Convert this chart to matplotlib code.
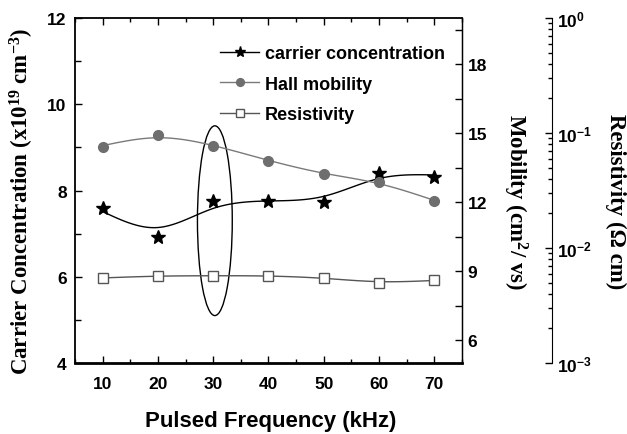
import matplotlib
matplotlib.use("Agg")
import matplotlib.pyplot as plt
import numpy as np
from matplotlib.patches import Ellipse
from matplotlib.ticker import FixedLocator, MultipleLocator, LogLocator, NullFormatter

plt.rcParams['font.family'] = 'Liberation Sans'
plt.rcParams['font.weight'] = 'bold'
plt.rcParams['mathtext.fontset'] = 'custom'
plt.rcParams['mathtext.rm'] = 'Liberation Serif:bold'
plt.rcParams['mathtext.bf'] = 'Liberation Sans:bold'
plt.rcParams['mathtext.default'] = 'rm'

freq = [10, 20, 30, 40, 50, 60, 70]
carrier = [7.60, 6.92, 7.76, 7.76, 7.74, 8.40, 8.32]          # x10^19 cm^-3
mobility = [14.39, 14.90, 14.43, 13.80, 13.20, 12.87, 12.04]  # cm^2/Vs
resistivity = [0.00548, 0.00571, 0.00571, 0.00571, 0.00552, 0.00499, 0.00527]  # ohm cm

serif = 'Liberation Serif'


def smooth(x, y, lam, h=0.5):
    # penalised least squares (Whittaker) on a fine grid -> smoothing spline
    x = np.asarray(x, float)
    y = np.asarray(y, float)
    xs = np.arange(x[0], x[-1] + h / 2, h)
    n = len(xs)
    idx = np.round((x - x[0]) / h).astype(int)
    w = np.zeros(n)
    w[idx] = 1.0
    yy = np.zeros(n)
    yy[idx] = y
    D = np.diff(np.eye(n), 2, axis=0)
    f = np.linalg.solve(np.diag(w) + lam * D.T @ D, w * yy)
    return xs, f


fig = plt.figure(figsize=(6.27, 4.35), dpi=100)
ax = fig.add_axes([0.1196, 0.1632, 0.6172, 0.7931])
ax2 = ax.twinx()
ax3 = ax.twinx()

xs, c_fit = smooth(freq, carrier, 500)
_, m_fit = smooth(freq, mobility, 500)
_, r_log = smooth(freq, np.log10(resistivity), 500)

ax.plot(xs, c_fit, color='black', lw=1.0)
ax.plot(freq, carrier, ls='none', marker='*', ms=10, color='black')
ax2.plot(xs, m_fit, color='#7a7a7a', lw=1.0)
ax2.plot(freq, mobility, ls='none', marker='o', ms=7, color='#6e6e6e')
ax3.plot(xs, 10 ** r_log, color='#555555', lw=1.0)
ax3.plot(freq, resistivity, ls='none', marker='s', ms=7, mfc='white',
         mec='#555555', mew=1.0)

ax.add_patch(Ellipse((30.3, 7.3), width=6.3, height=4.4, fill=False,
                     edgecolor='black', lw=1.0, zorder=5))

# legend proxies carry both line and marker
h1, = ax.plot([], [], color='black', lw=1.0, marker='*', ms=10)
h2, = ax.plot([], [], color='#7a7a7a', lw=1.0, marker='o', ms=7, mfc='#6e6e6e', mec='#6e6e6e')
h3, = ax.plot([], [], color='#555555', lw=1.0, marker='s', ms=7, mfc='white', mec='#555555')
ax.legend([h1, h2, h3], ['carrier concentration', 'Hall mobility', 'Resistivity'],
          loc='upper left', bbox_to_anchor=(0.375, 0.921), frameon=False,
          prop={'family': 'Liberation Sans', 'weight': 'bold', 'size': 13},
          handlelength=2.15, labelspacing=0.75, handletextpad=0.33,
          borderpad=0, borderaxespad=0, markerscale=0.8)

# main axis
ax.set_xlim(5, 75)
ax.set_ylim(4, 12)
ax.xaxis.set_major_locator(FixedLocator(freq))
ax.xaxis.set_minor_locator(MultipleLocator(5))
ax.yaxis.set_major_locator(MultipleLocator(2))
ax.yaxis.set_minor_locator(MultipleLocator(1))
ax.tick_params(axis='both', which='both', direction='in', top=True, right=False)
ax.tick_params(axis='x', which='major', length=5, width=1, pad=9, labelsize=12.5)
ax.tick_params(axis='x', which='minor', length=3, width=1)
ax.tick_params(axis='y', which='major', length=5, width=1, pad=6, labelsize=12.5)
ax.tick_params(axis='y', which='minor', length=4, width=1)
ax.spines['bottom'].set_linewidth(2.0)
ax.spines['left'].set_linewidth(1.3)
ax.spines['top'].set_linewidth(1.3)
ax.spines['right'].set_linewidth(1.0)

# mobility axis
ax2.set_ylim(5, 20)
ax2.yaxis.set_major_locator(FixedLocator([6, 9, 12, 15, 18]))
ax2.yaxis.set_minor_locator(FixedLocator([7.5, 10.5, 13.5, 16.5, 19.5]))
ax2.tick_params(axis='y', which='both', direction='in', labelsize=12.5, pad=4)
ax2.tick_params(axis='y', which='both', length=5, width=1)
for s in ['top', 'bottom', 'left']:
    ax2.spines[s].set_visible(False)

# resistivity axis, offset to the right
ax3.set_yscale('log')
ax3.set_ylim(1e-3, 1e0)
ax3.spines['right'].set_position(('axes', 1.2326))
for s in ['top', 'bottom', 'left']:
    ax3.spines[s].set_visible(False)
ax3.yaxis.set_major_locator(FixedLocator([1e-3, 1e-2, 1e-1, 1e0]))
ax3.set_yticklabels([r'$\mathbf{10^{-3}}$', r'$\mathbf{10^{-2}}$',
                     r'$\mathbf{10^{-1}}$', r'$\mathbf{10^{0}}$'])
ax3.yaxis.set_minor_locator(LogLocator(base=10, subs=np.arange(2, 10), numticks=20))
ax3.yaxis.set_minor_formatter(NullFormatter())
ax3.tick_params(axis='y', which='both', direction='in', labelsize=12.5, pad=3.5)
ax3.tick_params(axis='y', which='major', length=5, width=1)
ax3.tick_params(axis='y', which='minor', length=3, width=1)

for t in ax.get_xticklabels() + ax.get_yticklabels() + ax2.get_yticklabels():
    t.set_fontweight('bold')

# axis titles
fig.text(22 / 627, 1 - 201 / 435, r'Carrier Concentration (x10$^{19}$ cm$^{-3}$)',
         rotation=90, ha='center', va='center', family=serif, weight='bold', size=16.5)
fig.text(515 / 627, 1 - 202 / 435, r'Mobility (cm$^{2}$/ vs)',
         rotation=270, ha='center', va='center', family=serif, weight='bold', size=16.5)
fig.text(616 / 627, 1 - 202 / 435, 'Resistivity (\u03a9 cm)',
         rotation=270, ha='center', va='center', family=serif, weight='bold', size=16.5)
fig.text(271 / 627, 1 - 422 / 435, 'Pulsed Frequency (kHz)',
         ha='center', va='center', weight='bold', size=16)

fig.savefig('out.png', dpi=100)
